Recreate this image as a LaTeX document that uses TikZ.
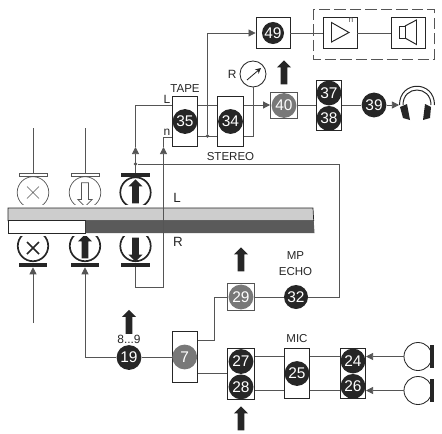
\documentclass[tikz,border=0pt]{standalone}
\usepackage{fontspec}
\setmainfont{Liberation Sans}
\usepackage{xcolor}
\usetikzlibrary{shapes.arrows, arrows.meta, positioning}
\definecolor{inkdark}{RGB}{38, 38, 38}
\definecolor{wiregray}{RGB}{85, 85, 85}
\definecolor{numgray}{RGB}{120, 120, 120}
\definecolor{tapelight}{RGB}{205, 205, 205}
\definecolor{tapedark}{RGB}{90, 90, 90}

\begin{document}
\begin{tikzpicture}[
    x=0.025cm, y=-0.025cm,
    node distance=0cm,
    wire/.style={draw=wiregray, line width=0.55pt},
    tipped/.style={wire, -{Triangle[length=5pt, width=5pt]}},
    tallbox/.style={rectangle, draw=inkdark, line width=0.6pt, fill=white, minimum width=0.63cm, minimum height=1.25cm, inner sep=0pt},
    squarebox/.style={rectangle, draw=wiregray, line width=0.7pt, fill=white, minimum width=0.67cm, minimum height=0.67cm, inner sep=0pt},
    widebox/.style={rectangle, draw=inkdark, line width=0.6pt, fill=white, minimum width=0.85cm, minimum height=0.78cm, inner sep=0pt},
    numdot/.style={circle, fill=inkdark, text=white, minimum size=0.62cm, inner sep=0pt, font=\fontsize{11}{11}\selectfont},
    numgrey/.style={numdot, fill=numgray},
    caption/.style={font=\fontsize{8.2}{9.5}\selectfont, text=inkdark, inner sep=0pt, align=center},
    sidemark/.style={font=\fontsize{9.5}{10}\selectfont, text=inkdark, inner sep=0pt},
    bigarrow/.style={single arrow, fill=inkdark, inner sep=0pt, text height=0.15cm, text depth=0cm, minimum height=0.6cm, minimum width=0.36cm, single arrow head extend=0.09cm, single arrow head indent=0cm, anchor=center, rotate=90},
    hollowarrow/.style={bigarrow, fill=white, draw=wiregray, line width=0.5pt, rotate=180},
    headthin/.style={circle, draw=wiregray, line width=0.5pt, minimum size=0.79cm, inner sep=0pt},
    headthick/.style={circle, draw=inkdark, line width=1.2pt, minimum size=0.76cm, inner sep=0pt},
    barthin/.style={rectangle, draw=wiregray, line width=0.5pt, fill=white, minimum width=0.7cm, minimum height=0.07cm, inner sep=0pt},
    barthick/.style={rectangle, fill=inkdark, minimum width=0.7cm, minimum height=0.1cm, inner sep=0pt}
]
\useasboundingbox (0,0) rectangle (442,434);

% helper rows
\coordinate (rowL) at (0,105);
\coordinate (rowS) at (0,136);
\coordinate (rowN) at (0,137);
\coordinate (rowU) at (0,356.5);
\coordinate (rowD) at (0,390.5);

% heads above and below the tape
\node[headthin] (headA) at (33,192.5) {};
\node[headthin] (headB) at (85,192.5) {};
\node[headthick] (headC) at (135.5,192.5) {};
\node[headthick] (headD) at (33,246) {};
\node[headthick] (headE) at (85,246) {};
\node[headthick] (headF) at (135.5,246) {};
\node[barthin] (barA) at (33,175) {};
\node[barthin] (barB) at (85,175) {};
\node[barthick] (barC) at (135.5,175) {};
\node[barthick] (barD) at (33,265) {};
\node[barthick] (barE) at (85,265) {};
\node[barthick] (barF) at (135.5,265) {};
\node[hollowarrow] (arrowB) at (85,193) {};
\node[bigarrow] (arrowC) at (135.5,193) {};
\node[bigarrow] (arrowE) at (85,248) {};
\node[bigarrow, rotate=180] (arrowF) at (135.5,248) {};
\draw[wiregray, line width=0.5pt] (27,186.5) -- (39,198.5) (27,198.5) -- (39,186.5);
\draw[inkdark, line width=1.2pt] (27,242) -- (39,254) (27,254) -- (39,242);

% tape
\node[rectangle, fill=white, minimum width=4cm, minimum height=0.78cm, inner sep=0pt] (gap) at (85,220.5) {};
\fill[tapelight, draw=inkdark, line width=0.5pt] (8,208) -- (313,208) -- (313.7,220.7) -- (8,220.7) -- cycle;
\fill[white, draw=inkdark, line width=0.5pt] (8,220.7) rectangle (85.5,233);
\fill[tapedark] (85.5,220.7) -- (313.7,220.7) -- (314.5,233) -- (85.5,233) -- cycle;
\node[sidemark] (markL) at (177,198) {L};
\node[sidemark] (markR) at (178,242) {R};

% boxes
\node[tallbox] (box35) at (185,121.5) {};
\node[numdot] (dot35) at (box35.center) {35};
\node[caption, above=0.09cm of box35] (capTape) {TAPE};
\node[sidemark, font=\fontsize{8.5}{9}\selectfont] (markTapeL) at (167,99.5) {L};
\node[sidemark, font=\fontsize{8.5}{9}\selectfont] (markTapeN) at (167,132) {n};
\node[tallbox] (box34) at (230.5,121.5) {};
\node[numdot] (dot34) at (box34.center) {34};
\node[caption, below=0.14cm of box34] (capStereo) {STEREO};
\node[widebox] (box49) at (273,33) {};
\node[numdot, minimum size=0.55cm] (dot49) at (box49.center) {49};
\draw[wiregray, dashed, dash pattern=on 8pt off 3pt, line width=0.6pt] (313,9) rectangle (434,59);
\node[widebox] (boxAmp) at (340,33) {};
\node[widebox] (boxSpk) at (408,33) {};
\node[font=\fontsize{6}{6}\selectfont, text=wiregray, inner sep=0pt] (markAmp) at (351,20.5) {n};
\draw[inkdark, line width=0.7pt] (331.5,22.5) -- (331.5,42) -- (349,32.5) -- cycle;
\draw[inkdark, line width=0.7pt] (399.5,26) rectangle (405,38);
\draw[inkdark, line width=0.7pt] (405,26) -- (416.5,20) -- (416.5,44.5) -- (405,38);
\node[circle, draw=inkdark, line width=0.6pt, minimum size=0.65cm, inner sep=0pt] (meter) at (253,74) {};
\node[sidemark, font=\fontsize{8.5}{9}\selectfont, left=0.07cm of meter] (markMeter) {R};
\coordinate (needleA) at (247,80);
\coordinate (needleB) at (261,68);
\draw[inkdark, line width=0.6pt, -{Stealth[length=4pt, width=4pt]}] (needleA) -- (needleB);
\node[squarebox] (box40) at (284,105.5) {};
\node[numgrey] (dot40) at (box40.center) {40};
\node[bigarrow] (arrow40) at (284,74) {};
\node[tallbox, draw=inkdark] (box37) at (329,105) {};
\node[numdot] (dot37) at (329,93) {37};
\node[numdot, below=0cm of dot37] (dot38) {38};
\node[numdot] (dot39) at (374,105) {39};

\node[squarebox] (box29) at (241,297) {};
\node[numgrey] (dot29) at (box29.center) {29};
\node[bigarrow] (arrow29) at (241,261) {};
\node[numdot, minimum size=0.6cm] (dot32) at (296,297) {32};
\node[caption] (capEcho) at (295.5,263.5) {MP\\[2pt]ECHO};
\node[tallbox, minimum height=1.29cm] (box7) at (184.7,357) {};
\node[numgrey] (dot7) at (box7.center) {7};
\node[numdot] (dot19) at (129,357.5) {19};
\node[caption, font=\fontsize{8.5}{9}\selectfont, above=0.03cm of dot19] (cap19) {8...9};
\node[bigarrow] (arrow19) at (129,323.5) {};
\node[tallbox, minimum width=0.67cm, minimum height=1.27cm] (box27) at (241,374) {};
\node[numdot] (dot27) at (241,361.5) {27};
\node[numdot, below=0cm of dot27] (dot28) {28};
\node[bigarrow] (arrow28) at (241,420) {};
\node[tallbox, minimum height=1.27cm] (box25) at (297,373.5) {};
\node[numdot] (dot25) at (box25.center) {25};
\node[caption, above=0.12cm of box25] (capMic) {MIC};
\node[tallbox, minimum height=1.27cm] (box24) at (353,373.5) {};
\node[numdot] (dot24) at (353,361) {24};
\node[numdot, below=0cm of dot24] (dot26) {26};

% microphones
\node[circle, draw=inkdark, line width=0.6pt, minimum size=0.7cm, inner sep=0pt] (micA) at (418,356.5) {};
\node[circle, draw=inkdark, line width=0.6pt, minimum size=0.7cm, inner sep=0pt] (micB) at (418,390.5) {};
\node[rectangle, fill=inkdark, minimum width=0.12cm, minimum height=0.58cm, inner sep=0pt] (padA) at (432,356.5) {};
\node[rectangle, fill=inkdark, minimum width=0.12cm, minimum height=0.58cm, inner sep=0pt] (padB) at (432,390.5) {};

% headphones
\draw[inkdark, line width=0.7pt] (399.5,105) .. controls (399.5,80) and (434.5,80) .. (434.5,105);
\draw[inkdark, line width=0.7pt] (403,105) .. controls (403,85) and (431,85) .. (431,105);
\fill[inkdark] (400,107) -- (407,104) -- (410,120) -- (403,118) -- cycle;
\fill[inkdark] (431,107) -- (425,104) -- (423,120) -- (430,118) -- cycle;
\coordinate (phones) at (399,105);

% signal lines
\coordinate (stemA) at (33,128);
\coordinate (stemB) at (85,128);
\coordinate (arrowL) at (135.5,147);
\coordinate (arrowN) at (163.5,147);
\coordinate (cornerR) at (163.5,287);
\coordinate (cornerE) at (339,164);
\coordinate (feedA) at (33,323);
\coordinate (midP) at (214,340.5);
\coordinate (lowP) at (214,373.7);
\node[circle, fill=wiregray, minimum size=0.09cm, inner sep=0pt] (dotL) at (135.5,164) {};
\node[circle, fill=wiregray, minimum size=0.09cm, inner sep=0pt] (dotT) at (207.5,136) {};

\draw[wire] (stemA) -- (barA.north);
\draw[wire] (stemB) -- (barB.north);
\draw[tipped] (barC.north) -- (arrowL);
\draw[wire] (arrowL) |- (box35.west |- rowL);
\draw[tipped] (barF.south) |- (cornerR) -- (arrowN);
\draw[wire] (arrowN) |- (box35.west |- rowN);
\draw[wire] (dotL) -- (cornerE) |- (dot32.east);
\draw[wire] (box35.east |- rowL) -- (box34.west |- rowL);
\draw[wire] (box35.east |- rowS) -- (box34.west |- rowS);
\draw[tipped] (dotT) |- (box49.west);
\draw[wire] (box49.east) -- (boxAmp.west);
\draw[wire] (boxAmp.east) -- (boxSpk.west);
\draw[wire] (meter.south) |- (box34.east |- rowS);
\draw[tipped] (box34.east |- rowL) -- (box40.west |- rowL);
\draw[wire] (box40.east |- rowL) -- (box37.west |- rowL);
\draw[wire] (box37.east |- rowL) -- (dot39.west);
\draw[tipped] (dot39.east) -- (phones);
\draw[tipped] (feedA) -- (barD.south);
\draw[tipped] (dot19.west) -| (barE.south);
\draw[wire] (dot19.east) -- (box7.west |- dot19);
\draw[wire] (box7.east |- midP) -- (midP) |- (box29.west);
\draw[wire] (box29.east) -- (dot32.west);
\draw[wire] (box7.east |- lowP) -- (box27.west |- lowP);
\draw[wire] (box27.east |- rowU) -- (box25.west |- rowU);
\draw[wire] (box27.east |- rowD) -- (box25.west |- rowD);
\draw[wire] (box25.east |- rowU) -- (box24.west |- rowU);
\draw[wire] (box25.east |- rowD) -- (box24.west |- rowD);
\draw[tipped] (micA.west) -- (box24.east |- rowU);
\draw[tipped] (micB.west) -- (box24.east |- rowD);

\end{tikzpicture}
\end{document}
